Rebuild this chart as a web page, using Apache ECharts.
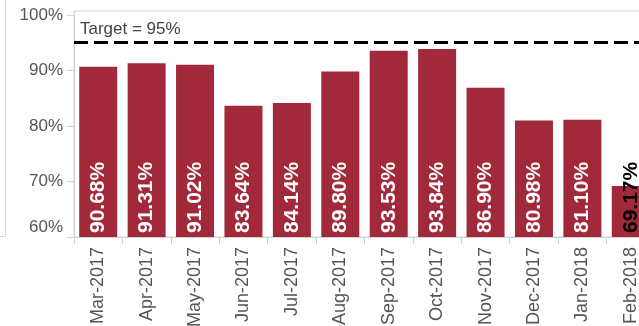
<!DOCTYPE html>
<html>
<head>
<meta charset="utf-8">
<script src="https://cdn.jsdelivr.net/npm/echarts@6/dist/echarts.min.js"></script>
<style>
  html, body { margin: 0; padding: 0; background: #fff; }
  #chart { width: 639px; height: 326px; }
</style>
</head>
<body>
<div id="chart"></div>
<script>
// monthly values (percent)
let months = ["Mar-2017", "Apr-2017", "May-2017", "Jun-2017", "Jul-2017", "Aug-2017",
  "Sep-2017", "Oct-2017", "Nov-2017", "Dec-2017", "Jan-2018", "Feb-2018"];
let values = [90.68, 91.31, 91.02, 83.64, 84.14, 89.80, 93.53, 93.84, 86.90, 80.98, 81.10, 69.17];
let yTicks = [60, 70, 80, 90, 100];
let target = 95;

let barColor = "#a22939";
let font = "Liberation Sans, Arial, sans-serif";

let barData = values.map(function (v, i) {
  let last = i === values.length - 1;
  return {
    value: v,
    label: { color: last ? "#000" : "#fff" }
  };
});

let option = {
  backgroundColor: "#fff",
  animation: false,
  grid: {
    left: 74,
    top: 11,
    width: 581,
    height: 226,
    outerBoundsMode: "none",
    containLabel: false,
    show: true,
    borderColor: "#d9d9d9",
    borderWidth: 1
  },
  graphic: [
    {
      type: "line",
      shape: { x1: 5.5, y1: 0, x2: 5.5, y2: 237 },
      style: { stroke: "#d9d9d9", lineWidth: 1 }
    },
    {
      type: "line",
      shape: { x1: 0, y1: 236.5, x2: 5, y2: 236.5 },
      style: { stroke: "#d9d9d9", lineWidth: 1 }
    }
  ],
  xAxis: {
    type: "category",
    data: months,
    axisLine: { lineStyle: { color: "#d0d0d0" } },
    axisTick: { show: true, length: 7, lineStyle: { color: "#d0d0d0" } },
    axisLabel: {
      rotate: 90,
      interval: 0,
      margin: 10,
      color: "#555",
      fontSize: 18,
      fontFamily: font
    }
  },
  yAxis: {
    type: "value",
    min: 60,
    max: 100.7,
    interval: 10,
    axisLine: { show: true, lineStyle: { color: "#d0d0d0" } },
    axisTick: { show: true, length: 7, lineStyle: { color: "#d0d0d0" }, customValues: yTicks },
    splitLine: { show: false },
    axisLabel: {
      customValues: yTicks,
      margin: 11,
      color: "#555",
      fontSize: 17,
      fontFamily: font,
      formatter: function (v) {
        return v === 60 ? "{low|" + v + "%}" : v + "%";
      },
      rich: {
        low: { fontSize: 17, color: "#555", fontFamily: font, padding: [0, 0, 20, 0] }
      }
    }
  },
  series: [
    {
      type: "bar",
      data: barData,
      barWidth: 38,
      itemStyle: { color: barColor },
      label: {
        show: true,
        position: "insideBottom",
        rotate: 90,
        align: "left",
        verticalAlign: "middle",
        distance: 4,
        fontSize: 21,
        fontWeight: "bold",
        fontFamily: font,
        formatter: function (p) {
          return p.value.toFixed(2) + "%";
        }
      },
      markLine: {
        silent: true,
        symbol: ["none", "none"],
        lineStyle: { color: "#000", width: 3, type: [14, 6] },
        label: {
          show: true,
          position: "insideStartTop",
          distance: [6, 5],
          color: "#444",
          fontSize: 17,
          fontFamily: font,
          formatter: "Target = 95%"
        },
        data: [{ yAxis: target }]
      }
    }
  ]
};

let myChart = echarts.init(document.getElementById("chart"));
myChart.setOption(option);
</script>
</body>
</html>
